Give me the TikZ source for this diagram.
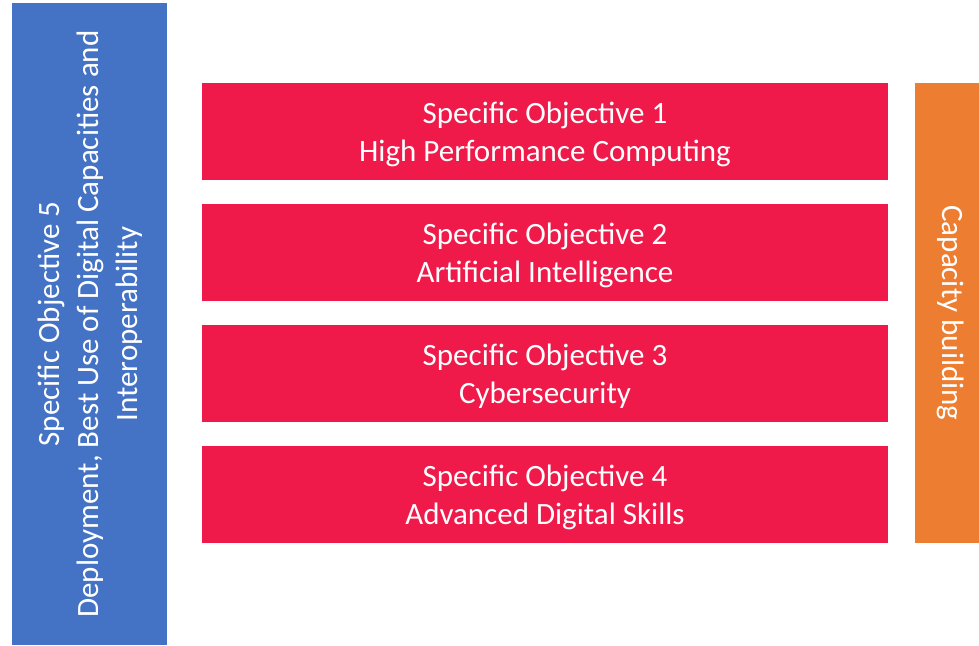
\documentclass[tikz,border=0pt]{standalone}
\usepackage{fontspec}
\setmainfont{Carlito}
\definecolor{soblue}{RGB}{68,114,196}
\definecolor{sored}{RGB}{239,26,74}
\definecolor{soorange}{RGB}{237,125,49}
\begin{document}
\begin{tikzpicture}[x=1pt,y=-1pt,
  obj/.style={fill=sored,draw=none,text=white,align=center,font=\fontsize{31}{38}\selectfont,inner sep=0pt},
  side/.style={draw=none,text=white,align=center,inner sep=0pt}]
\useasboundingbox (0,0) rectangle (979,645);
\fill[soblue] (12,3) rectangle (167,645);
\node[side,rotate=90,font=\fontsize{31}{39}\selectfont] (so5) at (90,324)
  {Specific Objective 5\\Deployment, Best Use of Digital Capacities and\\Interoperability};
\fill[soorange] (915,83) rectangle (979,543);
\node[side,rotate=-90,font=\fontsize{31}{38}\selectfont] (cap) at (951,313) {Capacity building};
\foreach \i/\t/\y in {1/High Performance Computing/83, 2/Artificial Intelligence/204, 3/Cybersecurity/325, 4/Advanced Digital Skills/446}{
  \fill[sored] (202,\y) rectangle (888,\y+97);
  \node[obj] (so\i) at (545,\y+51.5) {Specific Objective \i\\\t};
}
\end{tikzpicture}
\end{document}
